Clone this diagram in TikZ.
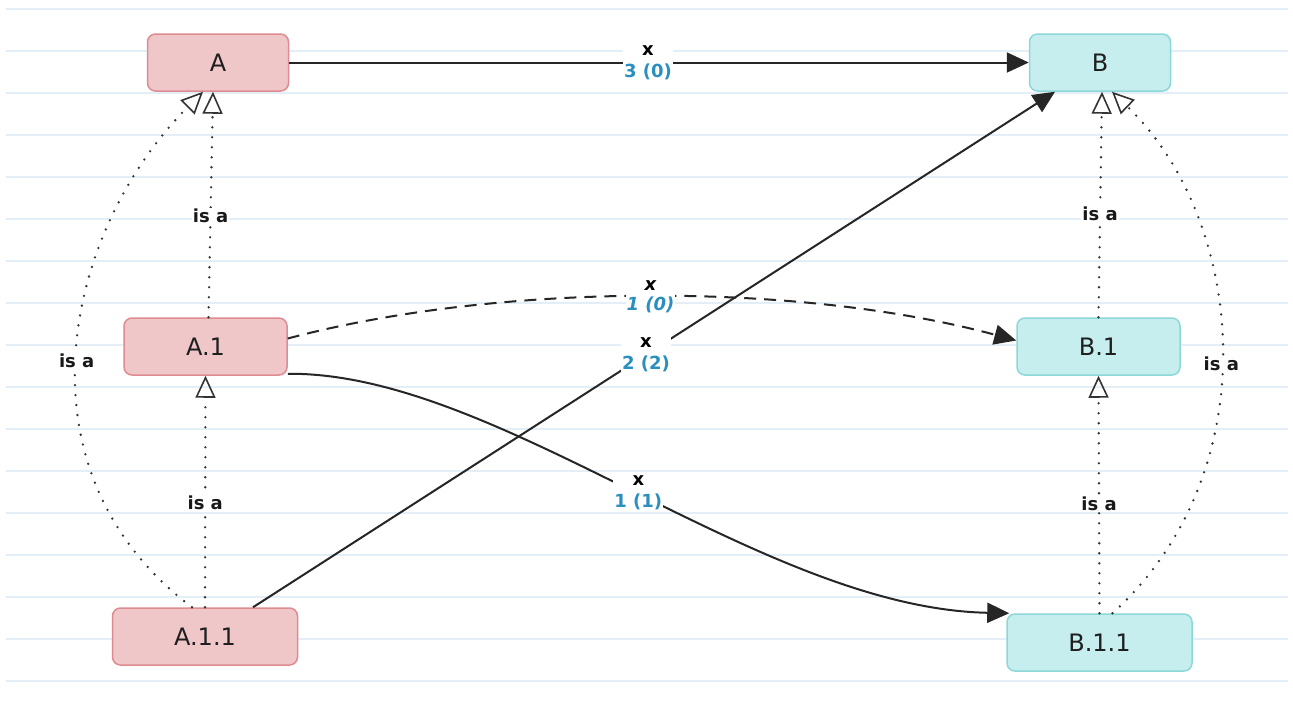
\documentclass[tikz,border=0pt]{standalone}
\usepackage{fontspec}
\setmainfont{DejaVu Sans}
\usetikzlibrary{arrows.meta}
\definecolor{pinkfill}{HTML}{F0C7C9}
\definecolor{pinkline}{HTML}{DE8C92}
\definecolor{cyanfill}{HTML}{C7EEEE}
\definecolor{cyanline}{HTML}{8CD8D8}
\definecolor{gridline}{HTML}{E4EEF6}
\definecolor{countblue}{HTML}{2A8FBF}
\begin{document}
\begin{tikzpicture}[x=1pt, y=-1pt, font=\fontsize{24}{28}\selectfont,
  classbox/.style={rounded corners=8pt, line width=1.5pt, minimum height=57pt, inner sep=0pt, text=black!88},
  pinkbox/.style={classbox, draw=pinkline, fill=pinkfill},
  cyanbox/.style={classbox, draw=cyanline, fill=cyanfill},
  assoc/.style={line width=2pt, black!85, -{Triangle[length=22pt, width=20pt]}},
  isa/.style={line width=2.6pt, black!80, dash pattern=on 0pt off 10pt, line cap=round,
    -{Triangle[open, length=22pt, width=20pt, line width=1.6pt]}},
  countlbl/.style={fill=white, inner sep=1pt, align=center, text=black, font=\fontsize{18}{22}\selectfont\bfseries},
  isalbl/.style={fill=white, inner sep=1pt, text=black!90, font=\fontsize{18}{20}\selectfont\bfseries}]
  % background
  \fill[white] (0,0) rectangle (1293,720);
  \foreach \r in {0,...,16}
    \draw[gridline, line width=1.5pt] (6,{9+42*\r}) -- (1288,{9+42*\r});
  % classes
  \node[pinkbox, minimum width=141pt] (A) at (218,62.5) {A};
  \node[cyanbox, minimum width=141pt] (B) at (1100,62.5) {B};
  \node[pinkbox, minimum width=163pt] (A1) at (205.5,346.5) {A.1};
  \node[cyanbox, minimum width=163pt] (B1) at (1098.5,346.5) {B.1};
  \node[pinkbox, minimum width=185pt] (A11) at (205,636.5) {A.1.1};
  \node[cyanbox, minimum width=185pt] (B11) at (1099.5,642.5) {B.1.1};
  % is a
  \draw[isa] ([xshift=3pt]A1.north) -- node[isalbl, pos=0.45] {is a} ([xshift=-5pt]A.south);
  \draw[isa] (A11.north) -- node[isalbl, pos=0.45] {is a} (A1.south);
  \draw[isa] ([xshift=-13pt]A11.north) .. controls (10,470) and (65,230) .. node[isalbl, pos=0.48] {is a} ([xshift=-15pt]A.south);
  \draw[isa] (B1.north) -- node[isalbl, pos=0.46] {is a} ([xshift=2pt]B.south);
  \draw[isa] (B11.north) -- node[isalbl, pos=0.46] {is a} (B1.south);
  \draw[isa] ([xshift=13pt]B11.north) .. controls (1270,470) and (1245,220) .. node[isalbl, pos=0.47] {is a} ([xshift=12pt]B.south);
  % x
  \draw[assoc] (A) -- node[countlbl, pos=0.485] {x\\\textcolor{countblue}{3 (0)}} (B);
  \draw[assoc, dash pattern=on 12pt off 8pt] ([yshift=8pt]A1.east) .. controls (500,282) and (800,282) .. node[countlbl, font=\fontsize{18}{20}\selectfont\bfseries\itshape] {x\\\textcolor{countblue}{1 (0)}} ([yshift=6pt]B1.west);
  \draw[assoc] ([xshift=48pt]A11.north) -- node[countlbl, pos=0.49] {x\\\textcolor{countblue}{2 (2)}} ([xshift=-45pt]B.south);
  \draw[assoc] ([yshift=2pt]A1.south east) .. controls (500,372) and (760,608) .. node[countlbl, pos=0.505] {x\\\textcolor{countblue}{1 (1)}} ([xshift=3pt]B11.north west);
\end{tikzpicture}
\end{document}
